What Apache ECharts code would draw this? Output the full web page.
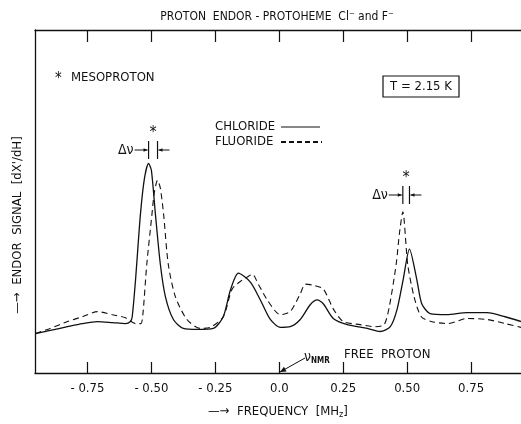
<!DOCTYPE html>
<html>
<head>
<meta charset="utf-8">
<script src="https://cdn.jsdelivr.net/npm/echarts@6/dist/echarts.min.js"></script>
<style>
  html, body { margin: 0; padding: 0; background: #fff; }
  #chart { width: 521px; height: 424px; }
</style>
</head>
<body>
<div id="chart"></div>
<script>
// frequency offset (MHz) and ENDOR signal (arbitrary units, 0-100)
var chlorideFreq = [-0.953, -0.895, -0.828, -0.77, -0.711, -0.652, -0.602, -0.582, -0.575, -0.562, -0.543, -0.527, -0.511, -0.5, -0.484, -0.465, -0.445, -0.414, -0.375, -0.32, -0.258, -0.219, -0.191, -0.16, -0.113, -0.074, -0.035, 0.004, 0.043, 0.082, 0.121, 0.148, 0.172, 0.211, 0.266, 0.344, 0.395, 0.434, 0.46, 0.484, 0.509, 0.538, 0.557, 0.59, 0.655, 0.734, 0.813, 0.883, 0.945];
var chlorideSig = [11.5, 12.4, 13.5, 14.4, 15.0, 14.7, 14.4, 15.0, 16.4, 27.1, 46.1, 56.8, 61.1, 59.1, 46.1, 31.7, 22.2, 15.6, 13.0, 12.7, 13.0, 16.4, 24.2, 29.1, 26.5, 21.3, 15.6, 13.3, 13.5, 15.6, 19.9, 21.3, 20.2, 15.9, 14.1, 13.0, 12.1, 13.5, 18.4, 27.1, 36.1, 27.1, 20.2, 17.3, 17.0, 17.6, 17.6, 16.4, 15.0];

var fluorideFreq = [-0.953, -0.895, -0.828, -0.77, -0.711, -0.652, -0.602, -0.562, -0.541, -0.533, -0.518, -0.498, -0.489, -0.476, -0.465, -0.452, -0.434, -0.406, -0.361, -0.309, -0.27, -0.219, -0.184, -0.145, -0.125, -0.105, -0.082, -0.047, 0.004, 0.043, 0.082, 0.102, 0.133, 0.172, 0.211, 0.25, 0.316, 0.375, 0.41, 0.43, 0.457, 0.47, 0.483, 0.502, 0.527, 0.555, 0.594, 0.66, 0.734, 0.813, 0.883, 0.945];
var fluorideSig = [11.5, 13.0, 15.0, 16.4, 17.9, 17.0, 16.1, 14.4, 14.4, 17.3, 31.7, 46.1, 52.4, 56.2, 53.9, 46.1, 31.7, 22.2, 15.6, 13.0, 13.3, 16.4, 24.5, 27.1, 28.0, 28.8, 25.9, 21.3, 17.0, 17.9, 23.1, 25.9, 25.6, 24.5, 18.7, 15.0, 14.1, 13.5, 14.1, 19.3, 31.7, 40.9, 47.0, 31.7, 22.2, 16.4, 15.0, 14.4, 15.9, 15.6, 14.4, 13.3];

var tickValues = [-0.75, -0.5, -0.25, 0, 0.25, 0.5, 0.75];
var tickLabels = ['- 0.75', '- 0.50', '- 0.25', '0.0', '0.25', '0.50', '0.75'];

// mesoproton peak positions for the delta-nu markers
var mesoLeft = [-0.511, -0.476];
var mesoRight = [0.483, 0.509];

var FONT = "'Liberation Sans Narrow', 'DejaVu Sans Condensed', 'Liberation Sans', sans-serif";
var INK = '#111';

function pairs(xs, ys) {
  var out = [];
  for (var i = 0; i < xs.length; i++) out.push([xs[i], ys[i]]);
  return out;
}

var myChart = echarts.init(document.getElementById('chart'));

myChart.setOption({
  animation: false,
  backgroundColor: '#fff',
  title: {
    text: 'PROTON  ENDOR - PROTOHEME  Cl\u207B and F\u207B',
    left: 272, top: 6, textAlign: 'center',
    textStyle: { fontFamily: FONT, fontSize: 12, fontWeight: 'normal', color: INK }
  },
  grid: { left: 35, right: 0, top: 30, bottom: 47 },
  xAxis: [
    {
      type: 'value', min: -0.955, max: 0.945,
      axisLine: { show: true, onZero: false, lineStyle: { color: INK, width: 1.3 } },
      axisTick: { show: true, inside: true, length: 11, customValues: tickValues, lineStyle: { color: INK, width: 1.2 } },
      axisLabel: {
        customValues: tickValues, margin: 9, color: INK, fontFamily: FONT, fontSize: 13,
        formatter: function (v) { return tickLabels[tickValues.indexOf(Math.round(v * 100) / 100)]; }
      },
      splitLine: { show: false },
      name: '\u2014\u2192  FREQUENCY  [MH{s|z}]',
      nameLocation: 'middle', nameGap: 31,
      nameTextStyle: {
        fontFamily: FONT, fontSize: 13, color: INK,
        rich: { s: { fontFamily: FONT, fontSize: 9, color: INK, verticalAlign: 'bottom', padding: [6, 0, 0, 0] } }
      }
    },
    {
      type: 'value', position: 'top', min: -0.955, max: 0.945,
      axisLine: { show: true, onZero: false, lineStyle: { color: INK, width: 1.3 } },
      axisTick: { show: true, inside: true, length: 12, customValues: tickValues, lineStyle: { color: INK, width: 1.2 } },
      axisLabel: { show: false },
      splitLine: { show: false }
    }
  ],
  yAxis: {
    type: 'value', min: 0, max: 100,
    axisLine: { show: true, onZero: false, lineStyle: { color: INK, width: 1.3 } },
    axisTick: { show: false },
    axisLabel: { show: false },
    splitLine: { show: false }
  },
  series: [
    {
      name: 'CHLORIDE', type: 'line', smooth: 0.25, showSymbol: false,
      data: pairs(chlorideFreq, chlorideSig),
      lineStyle: { color: INK, width: 1.3 }
    },
    {
      name: 'FLUORIDE', type: 'line', smooth: 0.25, showSymbol: false,
      data: pairs(fluorideFreq, fluorideSig),
      lineStyle: { color: INK, width: 1.1, type: [6, 4] }
    }
  ]
});

function arrow(x1, y1, x2, y2, head) {
  var a = Math.atan2(y2 - y1, x2 - x1), h = head || 4;
  return [
    { type: 'line', shape: { x1: x1, y1: y1, x2: x2, y2: y2 }, style: { stroke: INK, lineWidth: 1 } },
    { type: 'polygon', shape: { points: [[x2, y2],
        [x2 - h * Math.cos(a) + h * 0.45 * Math.sin(a), y2 - h * Math.sin(a) - h * 0.45 * Math.cos(a)],
        [x2 - h * Math.cos(a) - h * 0.45 * Math.sin(a), y2 - h * Math.sin(a) + h * 0.45 * Math.cos(a)]] },
      style: { fill: INK } }
  ];
}

function txt(x, y, s, align, size) {
  return { type: 'text', style: { text: s, x: x, y: y, align: align || 'left', verticalAlign: 'middle', fontFamily: FONT, fontSize: size || 13, fill: INK } };
}

function deltaNu(peaks, yMid) {
  var xa = myChart.convertToPixel({ xAxisIndex: 0 }, peaks[0]);
  var xb = myChart.convertToPixel({ xAxisIndex: 0 }, peaks[1]);
  var lo = Math.min(xa, xb), hi = Math.max(xa, xb);
  var els = [
    { type: 'line', shape: { x1: lo, y1: yMid - 9, x2: lo, y2: yMid + 9 }, style: { stroke: INK, lineWidth: 1.2 } },
    { type: 'line', shape: { x1: hi, y1: yMid - 9, x2: hi, y2: yMid + 9 }, style: { stroke: INK, lineWidth: 1.2 } },
    txt(lo - 15, yMid, '\u0394\u03BD', 'right', 14),
    txt((lo + hi) / 2, yMid - 17, '*', 'center', 16)
  ];
  return els.concat(arrow(lo - 14, yMid, lo - 1, yMid), arrow(hi + 12, yMid, hi + 1, yMid));
}

var g = [];
g.push(txt(55, 79, '*', 'left', 15));
g.push(txt(71, 78, 'MESOPROTON', 'left', 13));
g.push({ type: 'rect', shape: { x: 383, y: 76, width: 76, height: 21 }, style: { fill: 'none', stroke: INK, lineWidth: 1.2 } });
g.push(txt(421, 87, 'T = 2.15 K', 'center', 13));
g.push(txt(215, 127, 'CHLORIDE', 'left', 13));
g.push({ type: 'line', shape: { x1: 281, y1: 127, x2: 320, y2: 127 }, style: { stroke: INK, lineWidth: 1 } });
g.push(txt(215, 142, 'FLUORIDE', 'left', 13));
g.push({ type: 'line', shape: { x1: 281, y1: 142, x2: 322, y2: 142 }, style: { stroke: INK, lineWidth: 2, lineDash: [5, 3] } });
g = g.concat(deltaNu(mesoLeft, 150));
g = g.concat(deltaNu(mesoRight, 195));
g.push({ type: 'text', style: {
  text: '{n|\u03BD}{s|NMR}', x: 304, y: 357, verticalAlign: 'middle',
  fontFamily: FONT, fontSize: 13, fill: INK,
  rich: { n: { fontFamily: FONT, fontSize: 14, fill: INK }, s: { fontFamily: FONT, fontSize: 8, fill: INK, padding: [8, 0, 0, 0], fontWeight: 'bold' } }
} });
g.push(txt(344, 355, 'FREE  PROTON', 'left', 13));
g = g.concat(arrow(305, 358, 280, 372, 6));
g.push({ type: 'text', rotation: Math.PI / 2, x: 18, y: 225,
  style: { text: '\u2014\u2192  ENDOR  SIGNAL  [dX\'/dH]', align: 'center', verticalAlign: 'middle', fontFamily: FONT, fontSize: 13, fill: INK } });

myChart.setOption({ graphic: g });
</script>
</body>
</html>
